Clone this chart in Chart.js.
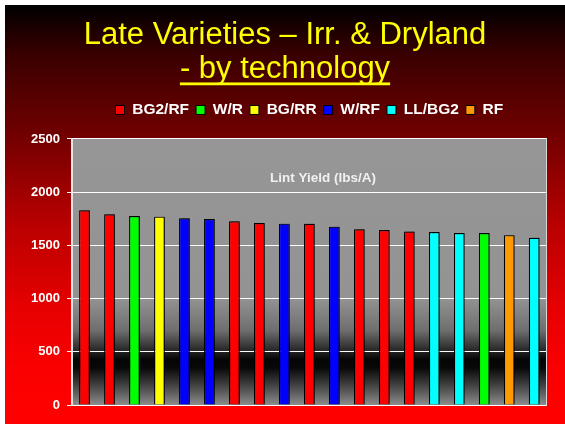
<!DOCTYPE html>
<html>
<head>
<meta charset="utf-8">
<script src="https://cdn.jsdelivr.net/npm/chart.js@4.4.1/dist/chart.umd.min.js"></script>
<style>
html, body { margin: 0; padding: 0; background: #ffffff; width: 565px; height: 424px; overflow: hidden; }
#slide {
  position: absolute; left: 5px; top: 5px; width: 560px; height: 419px;
  background: linear-gradient(to bottom, #000000 0%, #3a0000 12%, #6e0000 30%, #b80000 52%, #e60000 72%, #fa0000 86%, #ff0000 100%);
}
canvas { display: block; }
</style>
</head>
<body>
<div id="slide"><canvas id="c" width="560" height="419"></canvas></div>
<script>
// ---- data ----
const chartTitle = ['Late Varieties \u2013 Irr. & Dryland', '- by technology'];
const innerTitle = 'Lint Yield (lbs/A)';
const technologies = ['BG2/RF', 'W/R', 'BG/RR', 'W/RF', 'LL/BG2', 'RF'];
const barTechnology = ['BG2/RF', 'BG2/RF', 'W/R', 'BG/RR', 'W/RF', 'W/RF', 'BG2/RF', 'BG2/RF', 'W/RF', 'BG2/RF',
                       'W/RF', 'BG2/RF', 'BG2/RF', 'BG2/RF', 'LL/BG2', 'LL/BG2', 'W/R', 'RF', 'LL/BG2'];
const lintYield = [1830, 1793, 1776, 1770, 1755, 1748, 1726, 1710, 1704, 1702,
                   1676, 1652, 1645, 1630, 1625, 1616, 1616, 1596, 1571];
const yTicks = [0, 500, 1000, 1500, 2000, 2500];

// ---- styles ----
const palette = {
  'BG2/RF': '#ff0000', 'W/R': '#00ff00', 'BG/RR': '#ffff00',
  'W/RF': '#0000ff', 'LL/BG2': '#00ffff', 'RF': '#ff9900'
};
const FONT = "'Liberation Sans', Arial, sans-serif";
const TITLE_SIZE = 31, TITLE_LH = 1.1, TITLE_PAD_TOP = 13;

const plotBackground = {
  id: 'plotBackground',
  beforeDraw(chart) {
    const { ctx, chartArea: a } = chart;
    const g = ctx.createLinearGradient(0, a.top, 0, a.bottom);
    g.addColorStop(0, '#969696');
    g.addColorStop(0.60, '#939393');
    g.addColorStop(0.72, '#6e6e6e');
    g.addColorStop(0.80, '#222222');
    g.addColorStop(0.83, '#050505');
    g.addColorStop(0.86, '#080808');
    g.addColorStop(0.92, '#3c3c3c');
    g.addColorStop(1, '#8c8c8c');
    ctx.save();
    ctx.fillStyle = g;
    ctx.fillRect(a.left, a.top, a.right - a.left, a.bottom - a.top);
    ctx.restore();
  }
};

const innerTitleAndShadow = {
  id: 'innerTitleAndShadow',
  beforeDatasetsDraw(chart) {
    const { ctx, chartArea: a } = chart;
    ctx.save();
    ctx.font = 'bold 13.5px ' + FONT;
    ctx.fillStyle = '#f0f0f0';
    ctx.textAlign = 'center';
    ctx.textBaseline = 'middle';
    ctx.fillText(innerTitle, a.left + 0.529 * (a.right - a.left), a.top + 0.149 * (a.bottom - a.top));
    ctx.restore();
    ctx.save();
    ctx.shadowColor = 'rgba(0,0,0,0.45)';
    ctx.shadowOffsetX = 2;
    ctx.shadowOffsetY = 0;
    ctx.shadowBlur = 2;
  },
  afterDatasetsDraw(chart) {
    chart.ctx.restore();
  }
};

const titleUnderline = {
  id: 'titleUnderline',
  afterDraw(chart) {
    const t = chart.titleBlock;
    if (!t) return;
    const { ctx } = chart;
    const lh = TITLE_SIZE * TITLE_LH;
    const mid2 = t.top + TITLE_PAD_TOP + lh * 1.5;
    ctx.save();
    ctx.font = TITLE_SIZE + 'px ' + FONT;
    const w = ctx.measureText(chartTitle[1]).width;
    const cx = (t.left + t.right) / 2;
    ctx.fillStyle = '#ffff00';
    ctx.fillRect(cx - w / 2, mid2 + 13.3, w, 2.8);
    ctx.restore();
  }
};

new Chart(document.getElementById('c'), {
  type: 'bar',
  data: {
    labels: barTechnology,
    datasets: [{
      label: innerTitle,
      data: lintYield,
      backgroundColor: barTechnology.map(t => palette[t]),
      borderColor: '#000000',
      borderWidth: 1.2,
      barPercentage: 0.43,
      categoryPercentage: 1.0
    }]
  },
  options: {
    responsive: false,
    animation: false,
    layout: { padding: 0 },
    plugins: {
      title: {
        display: true,
        text: chartTitle,
        color: '#ffff00',
        font: { family: FONT, size: TITLE_SIZE, weight: 'normal', lineHeight: TITLE_LH },
        padding: { top: TITLE_PAD_TOP, bottom: 9 }
      },
      legend: {
        display: true,
        position: 'top',
        fullSize: false,
        labels: {
          color: '#ffffff',
          font: { family: FONT, size: 15.5, weight: 'bold' },
          boxWidth: 9,
          boxHeight: 9,
          padding: 7,
          generateLabels: () => technologies.map(t => ({
            text: t, fillStyle: palette[t], strokeStyle: '#000000', lineWidth: 1,
            fontColor: '#ffffff', hidden: false
          }))
        }
      },
      tooltip: { enabled: false }
    },
    scales: {
      x: {
        type: 'category',
        position: 'bottom',
        grid: { display: false },
        border: { display: false },
        ticks: { display: false },
        afterFit: s => { s.height = 19; }
      },
      x2: {
        type: 'linear',
        position: 'top',
        display: true,
        grid: { display: false },
        border: { display: false },
        ticks: { display: false },
        afterFit: s => { s.height = 11.25; }
      },
      y: {
        type: 'linear',
        position: 'left',
        min: 0,
        max: 2500,
        afterBuildTicks: s => { s.ticks = yTicks.map(v => ({ value: v })); },
        ticks: {
          color: '#ffffff',
          font: { family: FONT, size: 13, weight: 'bold' },
          padding: 7,
          callback: v => String(v)
        },
        grid: { color: '#ffffff', lineWidth: 1, drawTicks: true, tickLength: 5 },
        border: { display: true, color: '#e6e6e6', width: 2 },
        afterFit: s => { s.width = 67; }
      },
      y2: {
        type: 'linear',
        position: 'right',
        display: true,
        grid: { display: false },
        ticks: { display: false },
        border: { display: true, color: '#d8d8d8', width: 1 },
        afterFit: s => { s.width = 18.3; }
      }
    }
  },
  plugins: [plotBackground, innerTitleAndShadow, titleUnderline]
});
</script>
</body>
</html>
